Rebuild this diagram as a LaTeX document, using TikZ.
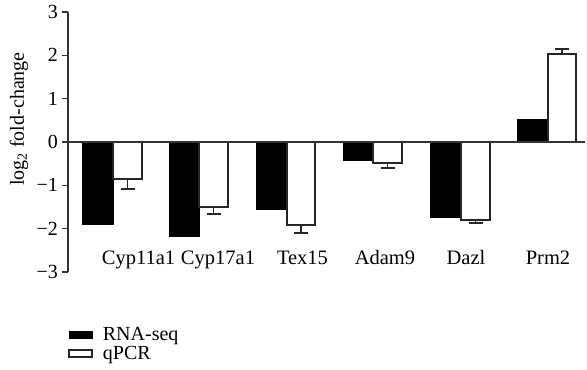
\documentclass[tikz,border=0pt]{standalone}
\usepackage{fontspec}
\setmainfont{Liberation Serif}
\begin{document}
\begin{tikzpicture}[x=1pt,y=43.33pt,
  axisline/.style={draw=black!80,line width=1.1pt},
  blackbar/.style={fill=black,draw=black,line width=0.8pt},
  whitebar/.style={fill=white,draw=black!85,line width=1.2pt},
  errbar/.style={draw=black!85,line width=1.1pt},
  ticklab/.style={anchor=east,inner sep=0pt,font=\fontsize{20}{24}\selectfont},
  genelab/.style={anchor=base,inner sep=0pt,font=\fontsize{20.5}{24}\selectfont},
  leglab/.style={anchor=base west,inner sep=0pt,font=\fontsize{20}{24}\selectfont}]
\useasboundingbox (0,-5.262) rectangle (587,3.277);
% axis
\draw[axisline] (68,3) -- (68,-3);
\foreach \v/\t in {3/3,2/2,1/1,0/0,-1/−1,-2/−2,-3/−3}{
  \draw[axisline] (62,\v) -- (68,\v);
  \node[ticklab] (tick\v) at (58,\v) {\t};
}
\node[rotate=90,inner sep=0pt,font=\fontsize{20}{24}\selectfont] (ylab) at (19,0.53) {log\textsubscript{2} fold-change};
% bars: x-left black, black right / white left, white right, black value, white value, error
\foreach \n/\a/\b/\c/\vb/\vw/\ve in {
  1/82/113/142/-1.892/-0.854/-1.085,
  2/169/199/228/-2.169/-1.500/-1.662,
  3/256/287/315/-1.546/-1.915/-2.100,
  4/343/373/402/-0.415/-0.485/-0.600,
  5/430/461/490/-1.731/-1.800/-1.869,
  6/517/548/576/0.531/2.031/2.146}{
  \path[blackbar] (\a,0) rectangle (\b,\vb);
  \path[whitebar] (\b,0) rectangle (\c,\vw);
  \pgfmathsetmacro{\m}{(\b+\c)/2}
  \draw[errbar] (\m,\vw) -- (\m,\ve);
  \draw[errbar] (\m-7,\ve) -- (\m+7,\ve);
}
% zero line
\draw[axisline] (68,0) -- (585,0);
% gene labels
\node[genelab] (g1) at (138.5,-2.816) {Cyp11a1};
\node[genelab] (g2) at (218,-2.816) {Cyp17a1};
\node[genelab] (g3) at (302.5,-2.816) {Tex15};
\node[genelab] (g4) at (385,-2.816) {Adam9};
\node[genelab] (g5) at (466,-2.816) {Dazl};
\node[genelab] (g6) at (548,-2.816) {Prm2};
% legend
\path[blackbar] (69,-4.362) rectangle (92,-4.523);
\path[whitebar] (69,-4.80) rectangle (92,-4.962);
\node[leglab] (l1) at (102.7,-4.570) {RNA-seq};
\node[leglab] (l2) at (102.7,-5.031) {qPCR};
\end{tikzpicture}
\end{document}
